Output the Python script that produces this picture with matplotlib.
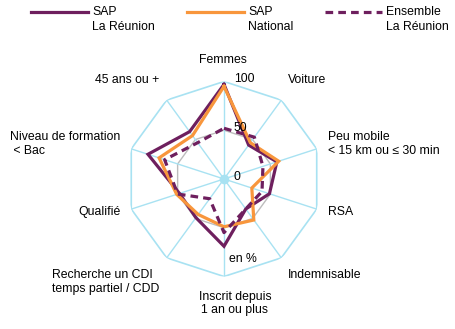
import numpy as np
import matplotlib
matplotlib.use("Agg")
import matplotlib.pyplot as plt
from matplotlib.lines import Line2D

plt.rcParams["font.family"] = ["Liberation Sans", "DejaVu Sans"]
plt.rcParams["font.size"] = 8.8

categories = ["Femmes", "Voiture", "Peu mobile\n< 15 km ou ≤ 30 min", "RSA",
              "Indemnisable", "Inscrit depuis\n1 an ou plus",
              "Recherche un CDI\ntemps partiel / CDD", "Qualifié",
              "Niveau de formation\n < Bac", "45 ans ou +"]
sap_reunion = [97, 43, 57, 49, 38, 69, 49, 48, 82, 60]
sap_national = [95, 46, 59, 30, 52, 49, 45, 51, 70, 55]
ensemble_reunion = [52, 53, 42, 41, 38, 55, 25, 50, 64, 46]
series_names = ["SAP\nLa Réunion", "SAP\nNational", "Ensemble\nLa Réunion"]
rings = [0, 50, 100]

purple = "#6E1F5E"
orange = "#F8963C"
cyan = "#A8E2F2"
grey = "#BDBDBD"

W, H = 455, 329
fig = plt.figure(figsize=(W / 100, H / 100), dpi=100)
ax = fig.add_axes([0.278, 0.1596, 0.4286, 0.5927], projection="polar")
ax.set_theta_offset(np.pi / 2)
ax.set_theta_direction(-1)
ax.set_ylim(0, 100)
ax.set_axis_off()

n = len(categories)
angles = np.linspace(0, 2 * np.pi, n, endpoint=False)
closed = np.append(angles, angles[0])

def close(vals):
    return list(vals) + [vals[0]]

# decagon grid: 50 in grey, 100 in cyan, plus the spokes
ax.plot(closed, [50] * (n + 1), color=grey, lw=1, zorder=1)
ax.plot(closed, [100] * (n + 1), color=cyan, lw=1.2, zorder=1)
for a in angles:
    ax.plot([a, a], [0, 100], color=cyan, lw=1, zorder=1)
ax.plot([0], [0], "o", color=cyan, ms=7, mew=0, zorder=1)

styles = [dict(color=purple, lw=2.3, ls="-"),
          dict(color=orange, lw=2.3, ls="-"),
          dict(color=purple, lw=2.3, ls=(0, (2.4, 1.6)))]
for i, vals in enumerate([sap_reunion, sap_national, ensemble_reunion]):
    ax.plot(closed, close(vals), zorder=3 + i, solid_joinstyle="miter", **styles[i])

# radial scale labels next to the top spoke
for r in rings:
    ax.annotate(str(r), xy=(0, r), xytext=(10, 2), textcoords="offset pixels",
                ha="left", va="center", zorder=10)

label_offsets = [(-1, 21), (7, 20), (11, 5), (11, -3), (7, -17),
                 (11, -27), (-7, -24), (-11, -3), (-11, 5), (-7, 20)]
label_ha = ["center", "left", "left", "left", "left",
            "center", "right", "right", "right", "right"]
for a, lab, off, ha in zip(angles, categories, label_offsets, label_ha):
    ax.annotate(lab, xy=(a, 100), xytext=off, textcoords="offset pixels",
                ha=ha, va="center", multialignment="left" if ha != "center" else "center",
                annotation_clip=False)

ax.annotate("en %", xy=(0, 0), xytext=(19, -80), textcoords="offset pixels",
            ha="center", va="center")

# legend along the top
leg_x = [31, 187, 325]
for x0, name, st in zip(leg_x, series_names, styles):
    fig.add_artist(Line2D([x0 / W, (x0 + 57) / W], [1 - 12 / H] * 2,
                          transform=fig.transFigure, **st))
    fig.text((x0 + 61) / W, 1 - 19.5 / H, name, ha="left", va="center",
             linespacing=1.25)

fig.savefig("out.png", dpi=100)
